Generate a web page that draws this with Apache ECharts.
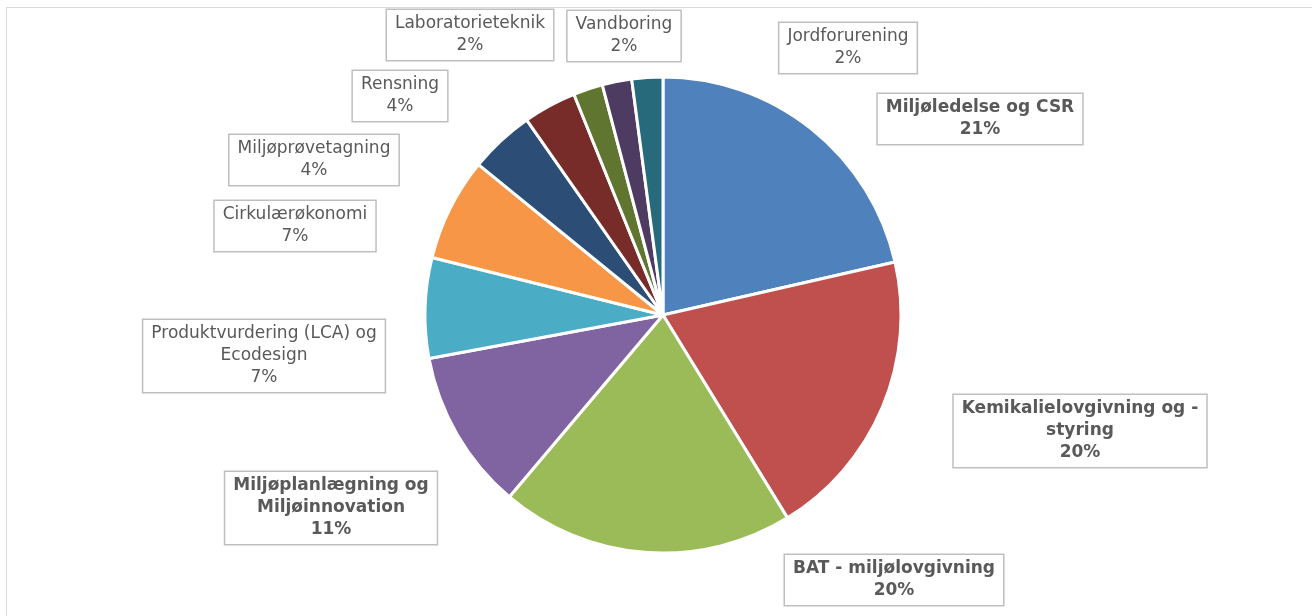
<!DOCTYPE html>
<html><head><meta charset="utf-8">
<script src="https://cdn.jsdelivr.net/npm/echarts@6/dist/echarts.min.js"></script>
<style>html,body{margin:0;padding:0;background:#fff}#c{width:1312px;height:616px}</style>
</head><body><div id="c"></div>
<script>
const categories = ["Miljøledelse og CSR","Kemikalielovgivning og -\nstyring","BAT - miljølovgivning","Miljøplanlægning og\nMiljøinnovation","Produktvurdering (LCA) og\nEcodesign","Cirkulærøkonomi","Miljøprøvetagning","Rensning","Laboratorieteknik","Vandboring","Jordforurening"];
const values = [21.4, 19.8, 19.9, 10.9, 6.8, 7.0, 4.4, 3.6, 2.0, 2.0, 2.1];
const boldLabels = [true, true, true, true, false, false, false, false, false, false, false];
const colors = ["#4f81bd","#c0504d","#9bbb59","#8064a2","#4bacc6","#f79646","#2c4d75","#772c2a","#5f7530","#4d3b62","#276a7c"];
const labelPos = [[980,119],[1080,431],[894,580],[331,508],[264,356],[295,226],[314,160],[400,96],[470,35],[624,36],[848,48]];

const FONT = "'DejaVu Sans', Verdana, sans-serif";
const chart = echarts.init(document.getElementById('c'), null, {renderer:'canvas'});
chart.setOption({
  animation:false,
  textStyle:{fontFamily:FONT},
  graphic:[{type:'rect',shape:{x:6.5,y:7.5,width:1400,height:700},style:{fill:'none',stroke:'#d9d9d9',lineWidth:1},silent:true,z:-1}],
  series:[{
    type:'pie',
    center:[663,315],
    radius:[0,238],
    startAngle:90,
    clockwise:true,
    avoidLabelOverlap:false,
    itemStyle:{borderColor:'#fff',borderWidth:3},
    labelLine:{show:false},
    label:{
      show:true, position:'outside',
      fontFamily:FONT, fontSize:17, lineHeight:22, color:'#595959',
      backgroundColor:'#fff', borderColor:'#bfbfbf', borderWidth:1.5, padding:[4,8,2,8],
      align:'center',
      formatter:p=>p.name+'\n'+Math.round(p.percent)+'%'
    },
    labelLayout:p=>({x:labelPos[p.dataIndex][0], y:labelPos[p.dataIndex][1], align:'center', verticalAlign:'middle'}),
    data:categories.map((c,i)=>({name:c,value:values[i],itemStyle:{color:colors[i]},label:{fontFamily:FONT,fontWeight:boldLabels[i]?'bold':'normal'}}))
  }]
});
</script></body></html>
